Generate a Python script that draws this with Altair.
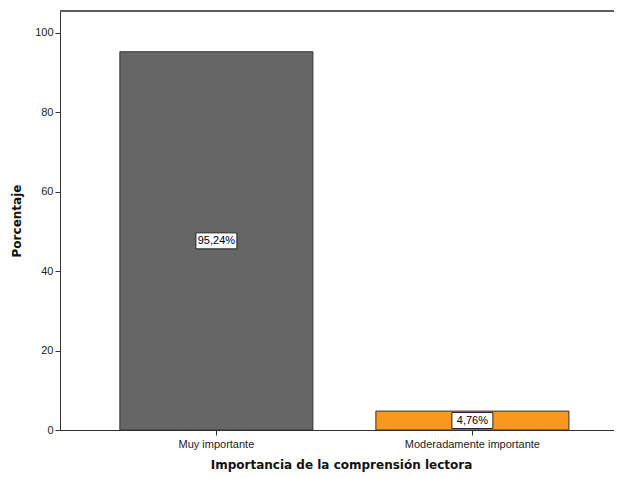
import altair as alt
import pandas as pd

categories = ["Muy importante", "Moderadamente importante"]
values = [95.24, 4.76]
labels = ["95,24%", "4,76%"]
colors = ["#666666", "#F8991E"]

df = pd.DataFrame({"cat": categories, "pct": values, "lab": labels})

W, H = 562, 419

x = alt.X("cat:N", sort=categories,
          scale=alt.Scale(paddingInner=0.246, paddingOuter=0.2206, align=0.53),
          axis=alt.Axis(title="Importancia de la comprensión lectora", labelAngle=0,
                        labelFont="Liberation Sans", labelFontSize=11, labelColor="#222",
                        titleFont="DejaVu Sans", titleFontSize=12, titleFontWeight="bold",
                        titleColor="#111", titlePadding=10, labelPadding=3,
                        tickSize=5, tickColor="#333", domainColor="#333"))

base = alt.Chart(df)

bars = base.mark_bar(stroke="#333333", strokeWidth=1).encode(
    x=x,
    y=alt.Y("pct:Q", scale=alt.Scale(domain=[0, 105.5], nice=False),
            axis=alt.Axis(title="Porcentaje", values=[0, 20, 40, 60, 80, 100], grid=False,
                          labelFont="Liberation Sans", labelFontSize=11, labelColor="#222",
                          titleFont="DejaVu Sans", titleFontSize=12, titleFontWeight="bold",
                          titleColor="#111", titlePadding=11, tickSize=5,
                          tickColor="#333", domainColor="#333")),
    color=alt.Color("cat:N", sort=categories,
                    scale=alt.Scale(domain=categories, range=colors), legend=None),
)

boxes = base.transform_calculate(mid="datum.pct/2").mark_bar(
    width=41, fill="white", stroke="#222", strokeWidth=1, yOffset=-8, y2Offset=8
).encode(x=alt.X("cat:N", sort=categories), y="mid:Q", y2="mid:Q")

texts = base.transform_calculate(mid="datum.pct/2").mark_text(
    font="Liberation Sans", fontSize=11, color="black", baseline="middle", align="center"
).encode(x=alt.X("cat:N", sort=categories), y="mid:Q", text="lab:N")

topline = alt.Chart(df).mark_rule(color="#555", strokeWidth=1.5).encode(
    x=alt.value(0), x2=alt.value(W), y=alt.value(0))

chart = alt.layer(bars, boxes, texts, topline).properties(
    width=W, height=H,
    autosize=alt.AutoSizeParams(type="none"),
    padding={"left": 52, "top": 3, "right": -8, "bottom": 46},
).configure_view(stroke=None, fill="#F0F0F0").configure(background="white")

chart.save("out.html", embed_options={"renderer": "svg", "actions": False})
